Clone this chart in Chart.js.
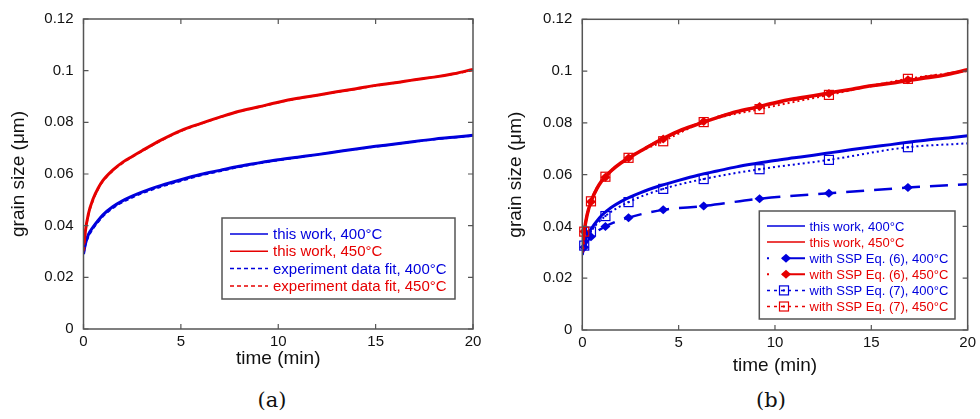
<!DOCTYPE html>
<html>
<head>
<meta charset="utf-8">
<script src="https://cdn.jsdelivr.net/npm/chart.js@4"></script>
<style>
    body { margin: 0; background: #fff; }
    #wrap { position: relative; width: 980px; height: 419px; }
    .panel { position: absolute; top: 0; width: 490px; height: 380px; }
    .cap { position: absolute; top: 388px; font-family: "DejaVu Serif", "Liberation Serif", serif; font-size: 21px; color: #111; transform: translateX(-50%); }
</style>
</head>
<body>
<div id="wrap">
    <div class="panel" style="left:0"><canvas id="chartA"></canvas></div>
    <div class="panel" style="left:490px"><canvas id="chartB"></canvas></div>
    <div class="cap" style="left:272px">(a)</div>
    <div class="cap" style="left:771px">(b)</div>
</div>
<script>
// Axis ticks
const xTicks = [0, 5, 10, 15, 20];
const yTicks = [0, 0.02, 0.04, 0.06, 0.08, 0.1, 0.12];
const yTickLabels = ['0', '0.02', '0.04', '0.06', '0.08', '0.1', '0.12'];

// Simulation curves (time in min, grain size in um)
const timeGrid = [0, 0.1, 0.25, 0.5, 0.75, 1, 1.5, 2, 2.5, 3, 4, 5, 6, 7, 8, 9, 10, 11, 12, 13, 14, 15, 16, 17, 18, 19, 20];
const work400 = [0.029, 0.033, 0.0365, 0.0395, 0.042, 0.0442, 0.0473, 0.0496, 0.0514, 0.053, 0.0556, 0.0578, 0.0598, 0.0614, 0.063, 0.0643, 0.0655, 0.0665, 0.0675, 0.0686, 0.0697, 0.0707, 0.0716, 0.0726, 0.0735, 0.0742, 0.075];
const work450 = [0.030, 0.038, 0.0445, 0.0505, 0.0545, 0.0575, 0.0615, 0.0645, 0.0668, 0.069, 0.0732, 0.0768, 0.0795, 0.082, 0.0843, 0.086, 0.0878, 0.0893, 0.0905, 0.0918, 0.093, 0.0943, 0.0953, 0.0965, 0.0975, 0.0988, 0.1005];
const fit400 = [0.029, 0.0325, 0.0357, 0.039, 0.0414, 0.0436, 0.0468, 0.0491, 0.0509, 0.0525, 0.0551, 0.0573, 0.0594, 0.0611, 0.0627, 0.0641, 0.0653, 0.0664, 0.0675, 0.0686, 0.0696, 0.0706, 0.0716, 0.0725, 0.0734, 0.0741, 0.0748];
const fit450 = [0.030, 0.0375, 0.044, 0.05, 0.0542, 0.0572, 0.0612, 0.0642, 0.0666, 0.0688, 0.073, 0.0766, 0.0794, 0.0819, 0.0842, 0.0859, 0.0877, 0.0892, 0.0905, 0.0917, 0.0929, 0.0942, 0.0953, 0.0964, 0.0975, 0.0987, 0.1002];

// SSP model curves (panel b)
const sspTime = [0, 0.1, 0.45, 1.2, 2.4, 4.2, 6.3, 9.2, 12.8, 16.9, 20];
const sspMarker = [0, 1, 1, 1, 1, 1, 1, 1, 1, 1, 0];
const eq6_400 = [0.030, 0.032, 0.036, 0.040, 0.0434, 0.0464, 0.0479, 0.0507, 0.0528, 0.055, 0.0563];
const eq6_450 = [0.030, 0.038, 0.0495, 0.059, 0.0664, 0.0738, 0.0805, 0.0863, 0.0913, 0.0967, 0.1002];
const eq7_400 = [0.030, 0.0326, 0.038, 0.044, 0.0494, 0.0545, 0.0583, 0.0621, 0.0657, 0.0706, 0.0721];
const eq7_450 = [0.030, 0.038, 0.0497, 0.0592, 0.0665, 0.0729, 0.0803, 0.0853, 0.0908, 0.097, 0.100];

const BLUE = 'rgb(0, 0, 220)';
const RED = 'rgb(230, 0, 0)';
const FONT = '"Liberation Sans", Arial, sans-serif';

function pts(xs, ys) {
    return xs.map((x, i) => ({ x: x, y: ys[i] }));
}

function drawMarker(ctx, kind, x, y, color) {
    ctx.save();
    ctx.setLineDash([]);
    if (kind === 'diamond') {
        ctx.fillStyle = color;
        ctx.beginPath();
        ctx.moveTo(x - 5, y); ctx.lineTo(x, y - 4.5); ctx.lineTo(x + 5, y); ctx.lineTo(x, y + 4.5);
        ctx.closePath();
        ctx.fill();
    } else if (kind === 'square') {
        ctx.strokeStyle = color;
        ctx.fillStyle = color;
        ctx.lineWidth = 1.2;
        ctx.strokeRect(x - 4.5, y - 4.5, 9, 9);
        ctx.fillRect(x - 1, y - 1, 2, 2);
    }
    ctx.restore();
}

// Box, inward ticks on four sides and the framed legend
const framePlugin = {
    id: 'frame',
    afterDatasetsDraw(chart, args, opts) {
        const { ctx, chartArea: a, scales } = chart;
        ctx.save();
        ctx.strokeStyle = '#555';
        ctx.lineWidth = 1.5;
        ctx.strokeRect(a.left, a.top, a.width, a.height);
        ctx.lineWidth = 1.2;
        ctx.beginPath();
        const tl = 5;
        scales.x.ticks.forEach(t => {
            const px = scales.x.getPixelForValue(t.value);
            ctx.moveTo(px, a.bottom); ctx.lineTo(px, a.bottom - tl);
            ctx.moveTo(px, a.top); ctx.lineTo(px, a.top + tl);
        });
        scales.y.ticks.forEach(t => {
            const py = scales.y.getPixelForValue(t.value);
            ctx.moveTo(a.left, py); ctx.lineTo(a.left + tl, py);
            ctx.moveTo(a.right, py); ctx.lineTo(a.right - tl, py);
        });
        ctx.stroke();

        // legend
        const L = opts.legend;
        ctx.fillStyle = '#fff';
        ctx.fillRect(L.x, L.y, L.w, L.h);
        ctx.strokeStyle = '#555';
        ctx.lineWidth = 1.5;
        ctx.strokeRect(L.x, L.y, L.w, L.h);
        ctx.font = L.fontSize + 'px ' + FONT;
        ctx.textBaseline = 'middle';
        L.rows.forEach((r, i) => {
            const y = L.firstRow + i * L.rowH;
            ctx.strokeStyle = r.color;
            ctx.lineWidth = r.width || 1.5;
            ctx.setLineDash(r.dash || []);
            ctx.beginPath();
            ctx.moveTo(L.sx, y);
            ctx.lineTo(L.sx + L.sw, y);
            ctx.stroke();
            ctx.setLineDash([]);
            if (r.marker) drawMarker(ctx, r.marker, L.sx + r.mx, y, r.color);
            ctx.fillStyle = r.color;
            ctx.fillText(r.label, L.tx, y + 1);
        });
        ctx.restore();
    }
};

// markers drawn right after their own line, so dataset order sets the layering
const markerPlugin = {
    id: 'markers',
    afterDatasetDraw(chart, args) {
        const ds = chart.data.datasets[args.index];
        if (!ds.marker) return;
        const ctx = chart.ctx;
        args.meta.data.forEach((el, j) => {
            if (ds.markerMask[j]) drawMarker(ctx, ds.marker, el.x, el.y, ds.borderColor);
        });
    }
};

function makeOptions(cfg) {
    return {
        animation: false,
        responsive: true,
        maintainAspectRatio: false,
        layout: { padding: cfg.padding },
        elements: { point: { radius: 0 }, line: { cubicInterpolationMode: 'monotone' } },
        plugins: {
            legend: { display: false },
            tooltip: { enabled: false },
            frame: { legend: cfg.legend }
        },
        scales: {
            x: {
                type: 'linear',
                min: 0, max: 20,
                afterBuildTicks: s => { s.ticks = xTicks.map(v => ({ value: v })); },
                afterFit: s => { s.height = cfg.xHeight; },
                grid: { display: false, drawTicks: false },
                border: { display: false },
                ticks: { padding: 4, color: '#111', font: { family: FONT, size: 15 } },
                title: { display: true, text: 'time (min)', color: '#111', padding: 0, font: { family: FONT, size: 19 } }
            },
            y: {
                type: 'linear',
                min: 0, max: 0.12,
                afterBuildTicks: s => { s.ticks = yTicks.map(v => ({ value: v })); },
                afterFit: s => { s.width = cfg.yWidth; },
                grid: { display: false, drawTicks: false },
                border: { display: false },
                ticks: {
                    padding: 10, color: '#111', font: { family: FONT, size: 15 },
                    callback: v => yTickLabels[yTicks.indexOf(v)]
                },
                title: { display: true, text: 'grain size (μm)', color: '#111', padding: { top: cfg.yTitlePad, bottom: 0 }, font: { family: FONT, size: 19 } }
            }
        }
    };
}

new Chart(document.getElementById('chartA'), {
    type: 'line',
    data: {
        datasets: [
            { data: pts(timeGrid, fit450), borderColor: RED, borderWidth: 2, borderDash: [4, 3] },
            { data: pts(timeGrid, fit400), borderColor: BLUE, borderWidth: 2, borderDash: [4, 3] },
            { data: pts(timeGrid, work450), borderColor: RED, borderWidth: 3 },
            { data: pts(timeGrid, work400), borderColor: BLUE, borderWidth: 3 }
        ]
    },
    options: makeOptions({
        padding: { left: 0, right: 17, top: 18.5, bottom: 10 },
        xHeight: 41, yWidth: 83.5, yTitlePad: 7.5,
        legend: {
            x: 222, y: 218, w: 233, h: 81, fontSize: 15,
            firstRow: 234, rowH: 17.3, sx: 230, sw: 38, tx: 273,
            rows: [
                { label: 'this work, 400°C', color: BLUE },
                { label: 'this work, 450°C', color: RED },
                { label: 'experiment data fit, 400°C', color: BLUE, dash: [4, 3] },
                { label: 'experiment data fit, 450°C', color: RED, dash: [4, 3] }
            ]
        }
    }),
    plugins: [framePlugin]
});

new Chart(document.getElementById('chartB'), {
    type: 'line',
    data: {
        datasets: [
            { data: pts(sspTime, eq7_450), borderColor: RED, borderWidth: 2, borderDash: [2, 3], marker: 'square', markerMask: sspMarker },
            { data: pts(sspTime, eq7_400), borderColor: BLUE, borderWidth: 2, borderDash: [2, 3], marker: 'square', markerMask: sspMarker },
            { data: pts(timeGrid, work450), borderColor: RED, borderWidth: 3.5 },
            { data: pts(timeGrid, work400), borderColor: BLUE, borderWidth: 3 },
            { data: pts(sspTime, eq6_450), borderColor: RED, borderWidth: 2.5, borderDash: [16, 10], marker: 'diamond', markerMask: sspMarker },
            { data: pts(sspTime, eq6_400), borderColor: BLUE, borderWidth: 2.5, borderDash: [18, 10], marker: 'diamond', markerMask: sspMarker }
        ]
    },
    options: makeOptions({
        padding: { left: 0, right: 9, top: 19.3, bottom: 3 },
        xHeight: 47, yWidth: 92.3, yTitlePad: 14.3,
        legend: {
            x: 269.3, y: 211, w: 195.7, h: 108, fontSize: 13,
            firstRow: 226, rowH: 16.1, sx: 277, sw: 38, tx: 319.5,
            rows: [
                { label: 'this work, 400°C', color: BLUE },
                { label: 'this work, 450°C', color: RED },
                { label: 'with SSP Eq. (6), 400°C', color: BLUE, width: 2, dash: [2, 13, 23], marker: 'diamond', mx: 19 },
                { label: 'with SSP Eq. (6), 450°C', color: RED, width: 2, dash: [2, 13, 23], marker: 'diamond', mx: 19 },
                { label: 'with SSP Eq. (7), 400°C', color: BLUE, width: 1.5, dash: [3, 4], marker: 'square', mx: 17 },
                { label: 'with SSP Eq. (7), 450°C', color: RED, width: 1.5, dash: [3, 4], marker: 'square', mx: 17 }
            ]
        }
    }),
    plugins: [markerPlugin, framePlugin]
});
</script>
</body>
</html>
